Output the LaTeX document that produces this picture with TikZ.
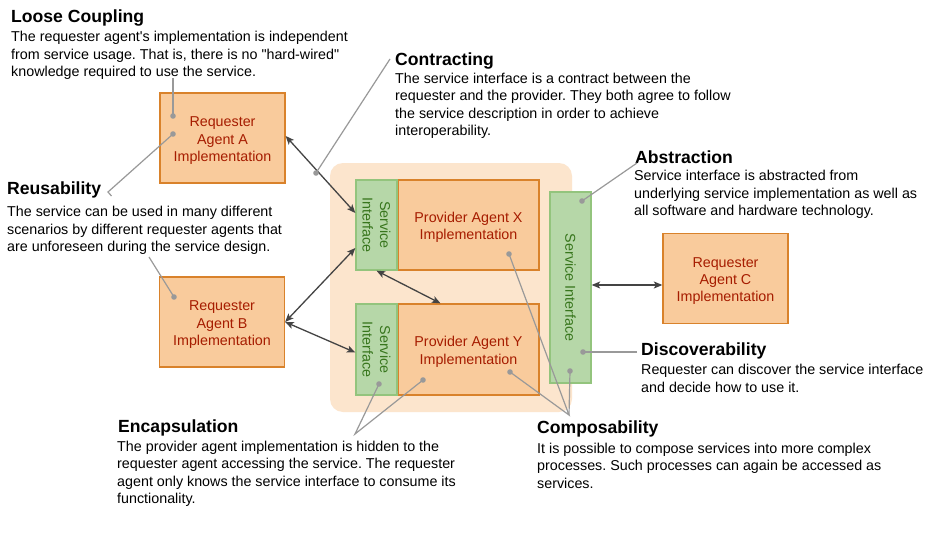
\documentclass[tikz,border=0pt]{standalone}
\usepackage{fontspec}
\setmainfont{Liberation Sans}[Ligatures=TeXOff]
\usetikzlibrary{arrows.meta,calc}
\frenchspacing

\definecolor{agentfill}{HTML}{F9CB9C}
\definecolor{agentline}{HTML}{D9822B}
\definecolor{agenttext}{HTML}{A61C00}
\definecolor{ifacefill}{HTML}{B6D7A8}
\definecolor{ifaceline}{HTML}{93C47D}
\definecolor{ifacetext}{HTML}{38761D}
\definecolor{groupfill}{HTML}{FCE5CD}
\definecolor{arrowgray}{HTML}{444444}
\definecolor{notegray}{HTML}{999999}

\newcommand\boxtxt{\fontsize{14.3}{17.3}\selectfont}
\newcommand\bodytxt{\fontsize{14.3}{17.3}\selectfont}
\newcommand\headtxt{\fontsize{17.6}{21}\selectfont\bfseries}
% extra room above the first line of a box label, so the label sits a bit lower
\newcommand\toppad{\rule{0pt}{15.2pt}}

\tikzset{
  agent/.style={draw=agentline, fill=agentfill, line width=1.3pt, text=agenttext,
    inner sep=0pt, align=center, font=\boxtxt, minimum width=125pt, minimum height=90pt},
  iface/.style={draw=ifaceline, fill=ifacefill, line width=1.3pt, inner sep=0pt},
  ifacelabel/.style={rotate=-90, text=ifacetext, align=center, font=\boxtxt, inner sep=0pt},
  conn/.style={draw=arrowgray, line width=1.3pt,
    {Stealth[length=8.5pt,width=7pt,inset=2pt]}-{Stealth[length=8.5pt,width=7pt,inset=2pt]}},
  note/.style={draw=notegray, line width=1.2pt},
  dot/.style={circle, fill=notegray, inner sep=0pt, minimum size=5.6pt},
  heading/.style={anchor=north west, inner sep=0pt, font=\headtxt, execute at begin node=\strut},
  body/.style={anchor=north west, inner sep=0pt, align=left, font=\bodytxt, execute at begin node=\strut},
}

\begin{document}
\begin{tikzpicture}[x=1pt,y=-1pt]
\useasboundingbox (0,0) rectangle (927,557);
\fill[white] (0,0) rectangle (927,557);

% group of the two providers
\fill[groupfill, rounded corners=13pt] (330,163) rectangle (572,412);

% requester agents
\node[agent] (reqA) at (222.5,138) {\toppad Requester\\Agent A\\Implementation};
\node[agent] (reqB) at (222,322) {\toppad Requester\\Agent B\\Implementation};
\node[agent] (reqC) at (725.5,278.5) {\toppad Requester\\Agent C\\Implementation};

% provider agents
\node[agent, minimum width=141pt] (provX) at (468.5,225) {\toppad Provider Agent X\\Implementation};
\node[agent, minimum width=141pt, minimum height=91pt] (provY) at (468.5,349.5) {\toppad Provider Agent Y\\Implementation};

% service interfaces
\node[iface, minimum width=41pt, minimum height=90pt,
  label={[ifacelabel]center:Service\\Interface}] (sifX) at (376.5,225) {};
\node[iface, minimum width=41pt, minimum height=91pt,
  label={[ifacelabel]center:Service\\Interface}] (sifY) at (376.5,349.5) {};
\node[iface, minimum width=41pt, minimum height=191pt,
  label={[ifacelabel]center:Service Interface}] (sifBig) at (570.5,287.5) {};

% interactions
\draw[conn] ([yshift=2pt]reqA.east) -- ([yshift=12pt]sifX.west);
\draw[conn] (reqB.east) -- ([yshift=-23pt]sifX.west);
\draw[conn] (reqB.east) -- ([yshift=-3pt]sifY.west);
\draw[conn] (sifX.south) -- ([xshift=-28pt]provY.north);
\draw[conn] ([yshift=2.5pt]sifBig.east) -- ([yshift=-6.5pt]reqC.west);

% principle descriptions
\node[heading] (lcHead) at (11,7.3) {Loose Coupling};
\node[body] (lcBody) at (11,31.2) {The requester agent's implementation is independent\\from service usage. That is, there is no "hard-wired"\\knowledge required to use the service.};

\node[heading] (coHead) at (395,50.3) {Contracting};
\node[body] (coBody) at (395,73) {The service interface is a contract between the\\requester and the provider. They both agree to follow\\the service description in order to achieve\\interoperability.};

\node[heading] (ruHead) at (7,179.3) {Reusability};
\node[body] (ruBody) at (7,206.4) {The service can be used in many different\\scenarios by different requester agents that\\are unforeseen during the service design.};

\node[heading] (abHead) at (635,148.3) {Abstraction};
\node[body] (abBody) at (634,170.4) {Service interface is abstracted from\\underlying service implementation as well as\\all software and hardware technology.};

\node[heading] (diHead) at (641,340.3) {Discoverability};
\node[body] (diBody) at (641,364.4) {Requester can discover the service interface\\and decide how to use it.};

\node[heading] (enHead) at (118,417.3) {Encapsulation};
\node[body] (enBody) at (117,441) {The provider agent implementation is hidden to the\\requester agent accessing the service. The requester\\agent only knows the service interface to consume its\\functionality.};

\node[heading] (cpHead) at (537,418.3) {Composability};
\node[body] (cpBody) at (537,443) {It is possible to compose services into more complex\\processes. Such processes can again be accessed as\\services.};

% pointers from descriptions to elements
\coordinate (lcEnd) at (173,78);
\node[dot] (lcDot) at (173,116) {};
\draw[note] (lcEnd) -- (lcDot.center);

\coordinate (ruTip) at (111.5,196);
\coordinate (ruBend) at (108,192);
\node[dot] (ruDotA) at (173,134) {};
\draw[note] (ruTip) -- (ruBend) -- (ruDotA.center);
\coordinate (ruEndB) at (149,257);
\node[dot] (ruDotB) at (174,297) {};
\draw[note] (ruEndB) -- (ruDotB.center);

\coordinate (coEnd) at (390,59);
\node[dot] (coDot) at (316,173) {};
\draw[note] (coEnd) -- (coDot.center);

\coordinate (abEnd) at (637,163);
\node[dot] (abDot) at (582,201) {};
\draw[note] (abEnd) -- (abDot.center);

\coordinate (diEnd) at (637,352);
\node[dot] (diDot) at (583,352) {};
\draw[note] (diEnd) -- (diDot.center);

\coordinate (enJoin) at (355,434);
\node[dot] (enDotI) at (379,384) {};
\node[dot] (enDotP) at (423,380) {};
\draw[note] (enDotI.center) -- (enJoin) -- (enDotP.center);

\coordinate (cpJoin) at (569,415);
\node[dot] (cpDotX) at (509,254) {};
\node[dot] (cpDotY) at (510,372) {};
\node[dot] (cpDotI) at (570,371) {};
\draw[note] (cpDotX.center) -- (cpJoin) -- (cpDotY.center);
\draw[note] (cpDotI.center) -- (cpJoin);
\end{tikzpicture}
\end{document}
